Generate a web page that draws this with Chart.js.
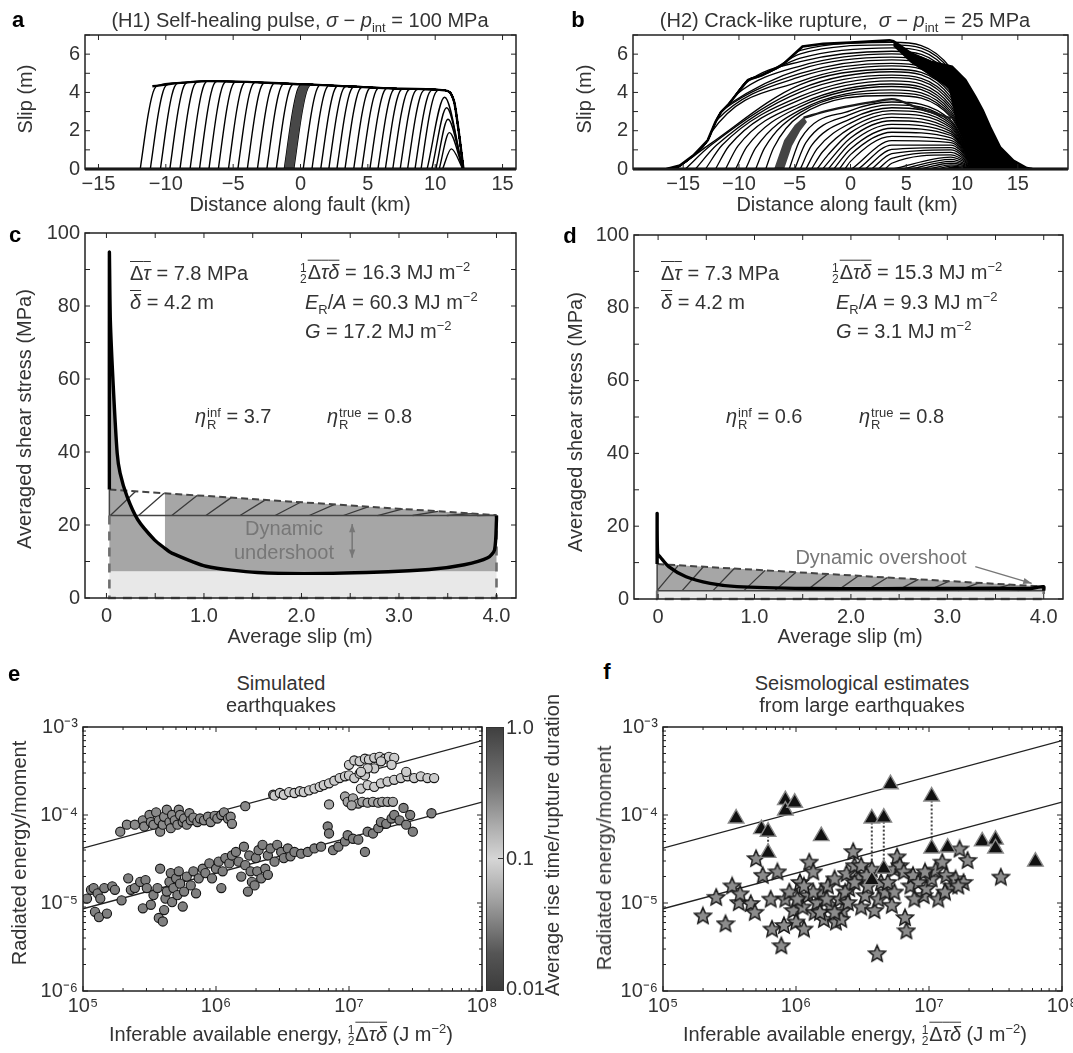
<!DOCTYPE html>
<html>
<head>
<meta charset="utf-8">
<script src="https://cdn.jsdelivr.net/npm/chart.js@4.4.1/dist/chart.umd.min.js"></script>
<style>
  body { margin: 0; background: #fff; }
  #fig { position: relative; width: 1073px; height: 1053px; overflow: hidden;
         font-family: 'Liberation Sans', Arial, Helvetica, sans-serif; color: #333; }
  canvas { position: absolute; }
  .t { position: absolute; white-space: nowrap; font-size: 20px; line-height: 1; }
  .c { transform: translate(-50%, -50%); }
  .lv { transform: translate(0, -50%); }
  .rot { transform: translate(-50%, -50%) rotate(-90deg); }
  .gray { color: #777; }
  .letter { position: absolute; font-weight: bold; font-size: 22px; color: #000; transform: translate(-50%, -50%); }
  .ov { text-decoration: overline; text-decoration-thickness: 1.4px; }
  .fr { display: inline-block; vertical-align: -0.3em; font-size: 12px; line-height: 11px; text-align: center; margin-right: 1px; }
  .fr span { display: block; }
  .ss { display: inline-block; vertical-align: -0.45em; font-size: 13px; line-height: 12px; margin-left: 1px; }
  .ss span { display: block; }
  sup, sub { font-size: 13px; line-height: 0; }
  #cbar { position: absolute; left: 486px; top: 727px; width: 16px; height: 262px; border: 1px solid #333;
          background: linear-gradient(to bottom, #404040 0%, #767676 22%, #b5b5b5 40%, #d6d6d6 50%, #a0a0a0 66%, #555 86%, #3c3c3c 100%); }
  .cbtick { position: absolute; width: 5px; height: 1px; background: #333; }
</style>
</head>
<body>
<div id="fig">
  <canvas id="chartA"></canvas>
  <canvas id="chartB"></canvas>
  <canvas id="chartC"></canvas>
  <canvas id="chartD"></canvas>
  <canvas id="chartE"></canvas>
  <canvas id="chartF"></canvas>

  <!-- panel a -->
  <div class="letter" style="left:18px;top:20px">a</div>
  <div class="t c" style="left:300px;top:20px">(H1) Self-healing pulse, <i>σ</i> − <i>p</i><sub>int</sub> = 100 MPa</div>
  <div class="t rot" style="left:25px;top:99px">Slip (m)</div>
  <div class="t c" style="left:300px;top:204px">Distance along fault (km)</div>

  <!-- panel b -->
  <div class="letter" style="left:578px;top:20px">b</div>
  <div class="t c" style="left:845px;top:20px">(H2) Crack-like rupture,&nbsp; <i>σ</i> − <i>p</i><sub>int</sub> = 25 MPa</div>
  <div class="t rot" style="left:584px;top:99px">Slip (m)</div>
  <div class="t c" style="left:847px;top:204px">Distance along fault (km)</div>

  <!-- panel c -->
  <div class="letter" style="left:15px;top:235px">c</div>
  <div class="t rot" style="left:24px;top:419px">Averaged shear stress (MPa)</div>
  <div class="t c" style="left:300px;top:636px">Average slip (m)</div>
  <div class="t lv" style="left:130px;top:273px"><span class="ov">Δ<i>τ</i></span> = 7.8 MPa</div>
  <div class="t lv" style="left:130px;top:302px"><span class="ov"><i>δ</i></span> = 4.2 m</div>
  <div class="t lv" style="left:300px;top:273px"><span class="fr"><span>1</span><span>2</span></span><span class="ov">Δ<i>τ</i></span><span class="ov"><i>δ</i></span> = 16.3 MJ m<sup>−2</sup></div>
  <div class="t lv" style="left:305px;top:302px"><i>E</i><sub>R</sub>/<i>A</i> = 60.3 MJ m<sup>−2</sup></div>
  <div class="t lv" style="left:305px;top:331px"><i>G</i> = 17.2 MJ m<sup>−2</sup></div>
  <div class="t lv" style="left:195px;top:418px"><i>η</i><span class="ss"><span>inf</span><span>R</span></span> = 3.7</div>
  <div class="t lv" style="left:327px;top:418px"><i>η</i><span class="ss"><span>true</span><span>R</span></span> = 0.8</div>
  <div class="t c gray" style="left:284px;top:528px">Dynamic</div>
  <div class="t c gray" style="left:284px;top:552px">undershoot</div>

  <!-- panel d -->
  <div class="letter" style="left:570px;top:236px">d</div>
  <div class="t rot" style="left:575px;top:422px">Averaged shear stress (MPa)</div>
  <div class="t c" style="left:850px;top:636px">Average slip (m)</div>
  <div class="t lv" style="left:661px;top:273px"><span class="ov">Δ<i>τ</i></span> = 7.3 MPa</div>
  <div class="t lv" style="left:661px;top:302px"><span class="ov"><i>δ</i></span> = 4.2 m</div>
  <div class="t lv" style="left:832px;top:273px"><span class="fr"><span>1</span><span>2</span></span><span class="ov">Δ<i>τ</i></span><span class="ov"><i>δ</i></span> = 15.3 MJ m<sup>−2</sup></div>
  <div class="t lv" style="left:836px;top:302px"><i>E</i><sub>R</sub>/<i>A</i> = 9.3 MJ m<sup>−2</sup></div>
  <div class="t lv" style="left:836px;top:331px"><i>G</i> = 3.1 MJ m<sup>−2</sup></div>
  <div class="t lv" style="left:726px;top:418px"><i>η</i><span class="ss"><span>inf</span><span>R</span></span> = 0.6</div>
  <div class="t lv" style="left:859px;top:418px"><i>η</i><span class="ss"><span>true</span><span>R</span></span> = 0.8</div>
  <div class="t c gray" style="left:881px;top:557px">Dynamic overshoot</div>

  <!-- panel e -->
  <div class="letter" style="left:14px;top:674px">e</div>
  <div class="t c" style="left:281px;top:683px">Simulated</div>
  <div class="t c" style="left:281px;top:705px">earthquakes</div>
  <div class="t rot" style="left:19px;top:853px">Radiated energy/moment</div>
  <div class="t c" style="left:281px;top:1035px">Inferable available energy, <span class="fr"><span>1</span><span>2</span></span><span class="ov">Δ<i>τ</i></span><span class="ov"><i>δ</i></span> (J m<sup>−2</sup>)</div>
  <div id="cbar"></div>
  <div class="cbtick" style="left:498px;top:858px"></div>
  <div class="t lv" style="left:506px;top:727px">1.0</div>
  <div class="t lv" style="left:506px;top:858px">0.1</div>
  <div class="t lv" style="left:506px;top:988px">0.01</div>
  <div class="t rot" style="left:552px;top:845px">Average rise time/rupture duration</div>

  <!-- panel f -->
  <div class="letter" style="left:607px;top:672px">f</div>
  <div class="t c" style="left:862px;top:683px">Seismological estimates</div>
  <div class="t c" style="left:862px;top:705px">from large earthquakes</div>
  <div class="t rot" style="left:604px;top:858px">Radiated energy/moment</div>
  <div class="t c" style="left:855px;top:1035px">Inferable available energy, <span class="fr"><span>1</span><span>2</span></span><span class="ov">Δ<i>τ</i></span><span class="ov"><i>δ</i></span> (J m<sup>−2</sup>)</div>
</div>

<script>
// ---------------- Data ----------------

// (a) self-healing pulse: final slip (top envelope, incl. right flank), km / m
const aEnvX = [-11.0, -8.9, -6.9, -3.95, -0.5, 1.0, 3.5, 7.2, 10.7, 11.4, 11.7, 12.1];
const aEnvY = [4.32, 4.5, 4.59, 4.55, 4.44, 4.41, 4.32, 4.2, 4.11, 3.53, 2.2, 0];
// position where each slip snapshot leaves zero (rupture front), km
const aFronts = [-11.9, -11.15, -10.4, -9.7, -8.95, -8.2, -7.5, -6.8, -6.1, -5.35, -4.65, -3.95,
                 -3.2, -2.5, -1.8, -1.2, -0.5, 0.2, 0.85, 1.5, 2.1, 2.7, 3.3, 3.95, 4.55, 5.15,
                 5.75, 6.3, 6.85, 7.4, 7.95, 8.5, 8.95];
// shape of the slip rise behind the front (offset km, fraction of final slip)
const aRiseDx = [0, 0.15, 0.35, 0.6, 0.85, 1.05, 1.3];
const aRiseFrac = [0, 0.17, 0.4, 0.66, 0.86, 0.96, 1.0];
// early snapshots near the nucleation zone
const aArcFoot = [9.4, 9.75, 10.05, 10.3, 10.55];
const aArcPeakX = [10.7, 10.85, 10.95, 11.05, 11.2];
const aArcPeakY = [3.75, 3.2, 2.6, 1.9, 1.05];
const aArcEnd = 12.05;
const aBandFronts = [-1.2, -0.5];   // highlighted snapshot interval

// (b) crack-like rupture: final slip envelope
const bEnvX = [-16.5, -15.3, -14.1, -12.8, -12.1, -11.6, -11.0, -9.2, -7.95, -6.1, -4.3, -2.45, 0,
               3.5, 3.85, 5.4, 7.2, 9.1, 10.3, 11.2, 11.85, 12.5, 13.4, 14.6, 15.8, 16.3];
const bEnvY = [0, 0.18, 0.7, 1.5, 2.46, 2.98, 3.33, 4.65, 4.9, 5.44, 6.4, 6.54, 6.6,
               6.72, 6.67, 6.05, 5.6, 5.35, 4.65, 3.77, 3.07, 2.2, 1.14, 0.44, 0.05, 0];
const bKnotX = [-4.5, 3.7, 9.0];    // kinks shared by the snapshots
const bTailX = 11.3;
// late snapshots (above the highlighted one): foot on baseline (null = leaves the flank)
const bLateFoot = [null, null, null, null, null, null, null, null, null,
                   -15.6, -14.8, -13.9, -13.0, -12.1, -11.2, -10.3, -9.4, -8.5, -7.6];
const bLateKneeX = [-6.4, -7.3, -8.3, -9.4, -10.2, -10.9, -11.4, -12.0, -12.5,
                    -12.6, -12.5, -12.0, -11.5, -10.9, -10.1, -9.3, -8.5, -7.7, -6.9];
const bLateKneeY = [5.32, 5.06, 4.8, 4.48, 3.9, 3.38, 3.1, 2.55, 1.9,
                    1.3, 1.25, 1.25, 1.25, 1.2, 1.2, 1.15, 1.1, 1.1, 1.1];
const bLateYa = [6.2, 6.02, 5.79, 5.61, 5.38, 5.21, 4.99, 4.82, 4.58, 4.41, 4.19, 4.02, 3.79, 3.62, 3.41, 3.26, 3.09, 2.96, 2.8];
const bLateYb = [6.62, 6.48, 6.33, 6.15, 6.01, 5.84, 5.7, 5.52, 5.39, 5.21, 5.08, 4.9, 4.77, 4.6, 4.44, 4.31, 4.13, 3.98, 3.84];
const bLateYc = [5.26, 5.12, 4.95, 4.81, 4.64, 4.52, 4.35, 4.22, 4.04, 3.92, 3.75, 3.61, 3.46, 3.3, 3.17, 3.02, 2.91, 2.8, 2.71];
// early snapshots (below the highlighted one)
const bEarlyFoot = [-5.5, -5.0, -4.5, -4.0, -3.5, -3.0, -2.5, -2.0, -1.5, -1.0, -0.5, 0.1,
                    0.7, 1.3, 1.9, 2.5, 3.1, 3.8, 4.6, 5.4, 6.2, 7.0, 7.8, 8.5];
const bEarlyKneeY = [1.55, 1.38, 1.22, 1.05, 0.9, 0.75, null, null, null, null, null, null,
                     null, null, null, null, null, null, null, null, null, null, null, null];
const bEarlyY0 = [3.05, 2.85, 2.62, 2.4, 2.15, 1.9, 1.62, 1.35, 1.05, 0.75, 0.4, null,
                  null, null, null, null, null, null, null, null, null, null, null, null];
const bEarlyYb = [3.5, 3.35, 3.2, 3.05, 2.88, 2.7, 2.52, 2.33, 2.13, 1.92, 1.7, 1.48,
                  1.25, 1.02, 0.8, 0.55, 0.3, null, null, null, null, null, null, null];
const bEarlyYc = [2.55, 2.45, 2.35, 2.25, 2.15, 2.05, 1.95, 1.85, 1.75, 1.62, 1.5, 1.38,
                  1.25, 1.12, 1.0, 0.87, 0.74, 0.62, 0.5, 0.4, 0.3, 0.22, 0.15, 0.08];
// highlighted snapshot band and its continuation
const bBandX = [-6.85, -5.95, -5.0, -4.2, -3.9, -4.5, -5.25, -5.95];
const bBandY = [0, 1.5, 2.3, 2.72, 2.45, 2.0, 1.2, 0];
const bTrailX = [-4.2, -2.0, 0, 2.0, 3.7, 6.0, 9.0];
const bTrailY = [2.68, 3.05, 3.3, 3.5, 3.65, 3.2, 2.65];
// inner edge of the saturated (black) zone near the right end
const bBlackInnerX = [11.3, 10.9, 10.3, 9.5, 9.2, 8.8, 7.2, 5.4, 3.85];
const bBlackInnerY = [0, 0.5, 1.3, 2.3, 3.2, 4.2, 4.85, 5.55, 6.4];

// (c) H1 averaged shear stress vs average slip
const cSlip = [0.03, 0.03, 0.04, 0.07, 0.11, 0.14, 0.21, 0.32, 0.49, 0.6, 0.67, 1.02, 1.55, 2.43, 3.31, 3.67, 3.91, 3.98, 4.0, 4.0];
const cTau  = [29.7, 94.5, 76, 58, 39.7, 34.2, 27.9, 21.5, 16, 13.6, 12.3, 8.7, 7.0, 6.85, 7.8, 9.1, 11, 13.2, 21.5, 22.6];
const cSlipEnds = [0.03, 4.0];
const cFinal = 7.3;          // top of light-grey block
const cLevel = 22.6;         // lower edge of hatched band
const cTop = [29.7, 22.7];   // hatched band upper edge at the two ends
const cCut = 0.6;            // left limit of the grey block
const cHatchX = [0.04, 0.33, 0.67, 1.02, 1.37, 1.73, 2.08, 2.43, 2.78, 3.14, 3.49, 3.8];
const cArrow = [2.52, 20.3, 2.52, 11.0];

// (d) H2 averaged shear stress vs average slip
const dSlip = [-0.01, -0.01, -0.005, 0.02, 0.11, 0.29, 0.54, 0.82, 1.54, 2.3, 2.96, 3.5, 3.86, 4.0, 4.0];
const dTau  = [9.6, 23.5, 12.5, 11.6, 8.9, 6.1, 4.3, 3.4, 2.9, 2.85, 2.9, 2.95, 2.9, 3.4, 2.3];
const dSlipEnds = [-0.01, 4.0];
const dLevel = 2.3;
const dTop = [9.6, 3.4];
const dHatchX = [-0.01, 0.25, 0.57, 0.89, 1.21, 1.54, 1.86, 2.16, 2.48, 2.8, 3.11, 3.43, 3.73];
const dArrow = [3.29, 8.9, 3.875, 4.3];

// (e, f) reference lines: radiated energy/moment vs inferable available energy
const fitE = [1e5, 1e8];
const fitHealing = [4.2e-5, 7.0e-4];
const fitCrack = [8.6e-6, 1.4e-4];

// (e) simulated earthquakes, [log10 E (J m^-2), log10 ER/M0]
const eHealA = [[5.28,-4.19],[5.33,-4.11],[5.39,-4.11],[5.45,-4.06],[5.46,-4.13],[5.50,-4.00],[5.51,-4.08],[5.53,-4.11],
  [5.55,-3.97],[5.57,-4.06],[5.58,-4.19],[5.60,-4.11],[5.61,-4.02],[5.63,-3.94],[5.65,-4.08],[5.66,-4.15],[5.67,-4.00],
  [5.69,-4.06],[5.71,-4.11],[5.72,-3.94],[5.73,-4.00],[5.75,-4.08],[5.76,-4.04],[5.78,-4.11],[5.80,-3.98],[5.81,-4.06],
  [5.83,-4.03],[5.86,-4.08],[5.88,-4.04],[5.91,-4.06],[5.94,-4.02],[5.96,-4.08],[5.99,-4.01],[6.01,-4.04],[6.04,-4.00],
  [6.06,-3.97],[6.09,-4.04],[6.11,-4.02],[6.12,-4.10],[6.22,-3.90],[6.43,-3.77]];
const eHealB = [[6.44,-3.78],[6.48,-3.75],[6.51,-3.77],[6.55,-3.74],[6.59,-3.75],[6.63,-3.73],[6.66,-3.74],[6.70,-3.72],
  [6.74,-3.70],[6.78,-3.68],[6.81,-3.66],[6.85,-3.64],[6.89,-3.61],[6.93,-3.58],[6.97,-3.56],[7.00,-3.55],[7.04,-3.58],
  [7.08,-3.53],[7.12,-3.55],[7.00,-3.43],[7.04,-3.38],[7.08,-3.39],[7.12,-3.36],[7.15,-3.37],[7.19,-3.35],[7.23,-3.34],
  [7.27,-3.36],[7.30,-3.34],[7.34,-3.35],[7.32,-3.43],[7.24,-3.39],[7.19,-3.47],[7.14,-3.47],[7.09,-3.51],[7.09,-3.70],
  [7.14,-3.66],[7.19,-3.68],[7.24,-3.64],[7.29,-3.62],[7.34,-3.60],[7.39,-3.58],[7.44,-3.56],[7.49,-3.58],[7.54,-3.56],
  [7.59,-3.58],[7.64,-3.58],[7.43,-3.51]];
const eHealC = [[6.97,-3.79],[6.99,-3.85],[7.03,-3.81],[7.07,-3.87],[7.10,-3.85],[7.14,-3.86],[7.18,-3.85],[7.22,-3.86],
  [7.25,-3.85],[7.29,-3.85],[7.33,-3.85],[7.02,-3.89],[6.85,-3.88]];
const eCrack = [[5.03,-4.95],[5.06,-4.85],[5.08,-4.83],[5.09,-5.10],[5.11,-4.89],[5.13,-4.95],[5.12,-5.16],[5.16,-4.83],
  [5.18,-5.12],[5.22,-4.81],[5.24,-4.85],[5.29,-4.97],[5.34,-4.72],[5.36,-4.85],[5.39,-4.83],[5.43,-4.76],[5.45,-5.06],
  [5.47,-4.74],[5.48,-4.83],[5.51,-5.02],[5.53,-4.91],[5.56,-4.83],[5.57,-5.17],[5.58,-4.61],[5.60,-5.21],[5.61,-5.08],
  [5.62,-4.95],[5.63,-4.87],[5.65,-4.76],[5.66,-4.66],[5.67,-4.99],[5.68,-4.83],[5.70,-4.72],[5.71,-4.91],[5.72,-4.64],
  [5.73,-4.78],[5.75,-5.04],[5.76,-4.87],[5.78,-4.70],[5.81,-4.80],[5.83,-4.64],[5.85,-4.89],[5.87,-4.72],[5.90,-4.61],
  [5.92,-4.66],[5.95,-4.55],[5.97,-4.72],[6.00,-4.61],[6.02,-4.53],[6.05,-4.64],[6.04,-4.83],[6.07,-4.49],[6.10,-4.55],
  [6.12,-4.46],[6.15,-4.42],[6.17,-4.53],[6.19,-4.70],[6.21,-4.36],[6.22,-4.57],[6.25,-4.46],[6.26,-4.64],[6.27,-4.76],
  [6.30,-4.49],[6.31,-4.64],[6.32,-4.40],[6.35,-4.34],[6.37,-4.61],[6.39,-4.46],[6.41,-4.38],[6.44,-4.53],[6.46,-4.34],
  [6.49,-4.42],[6.51,-4.49],[6.54,-4.38],[6.56,-4.47],[6.59,-4.42],[6.64,-4.44],[6.69,-4.42],[6.74,-4.38],[6.79,-4.36],
  [6.84,-4.13],[6.85,-4.21],[6.88,-4.40],[6.92,-4.36],[6.97,-4.30],[6.99,-4.23],[7.03,-4.27],[7.07,-4.28],[7.12,-4.42],
  [7.14,-4.19],[7.18,-4.21],[7.22,-4.15],[7.24,-4.08],[7.28,-4.10],[7.32,-4.04],[7.34,-4.00],[7.38,-4.06],[7.41,-3.92],
  [7.43,-4.11],[7.46,-4.00],[7.48,-4.19],[7.62,-3.98],[6.29,-4.80],[6.34,-4.72],[6.24,-4.87],[6.39,-4.68]];

// (f) seismological estimates, [log10 E, log10 ER/M0]
const fStars = [[5.30,-5.14],[5.47,-5.23],[5.40,-4.93],[5.52,-4.80],[5.57,-4.99],[5.66,-5.00],[5.69,-5.10],[5.70,-4.49],
  [5.75,-4.68],[5.81,-4.95],[5.82,-5.29],[5.86,-4.64],[5.89,-5.48],[5.92,-4.95],[5.95,-4.87],[5.98,-5.08],[6.00,-5.21],
  [6.03,-4.76],[6.05,-5.04],[6.06,-5.29],[6.09,-4.91],[6.10,-4.53],[6.13,-4.64],[6.14,-5.10],[6.16,-4.99],[6.19,-4.87],
  [6.21,-5.18],[6.24,-4.80],[6.26,-5.02],[6.29,-4.72],[6.30,-5.21],[6.33,-4.95],[6.35,-5.08],[6.38,-4.66],[6.40,-4.83],
  [6.43,-4.41],[6.44,-4.57],[6.47,-4.72],[6.49,-5.04],[6.52,-4.91],[6.54,-4.80],[6.57,-4.61],[6.59,-5.08],[6.61,-5.57],
  [6.62,-4.95],[6.64,-4.76],[6.67,-4.87],[6.72,-5.02],[6.74,-4.61],[6.76,-4.47],[6.78,-4.57],[6.81,-4.64],[6.82,-5.16],
  [6.83,-5.31],[6.86,-4.80],[6.88,-4.68],[6.92,-4.76],[6.96,-4.91],[6.98,-4.83],[7.02,-4.72],[7.05,-4.62],[7.07,-4.95],
  [7.10,-4.53],[7.13,-4.68],[7.17,-4.80],[7.20,-4.72],[7.23,-4.38],[7.26,-4.76],[7.29,-4.51],[7.54,-4.70],[5.58,-4.89],
  [5.91,-5.25],[6.37,-4.87],[6.49,-4.57],[6.13,-4.87],[6.18,-5.10],[6.23,-4.95],[6.34,-5.18],[6.39,-4.99],[6.53,-4.68],
  [6.69,-4.76],[6.74,-4.87],[6.89,-4.95],[6.97,-4.64],[7.12,-4.87],[7.22,-4.80],[6.01,-4.95],[6.06,-4.80],[6.29,-5.10],
  [6.44,-4.76]];
const fTriangles = [[5.55,-4.04],[5.74,-4.16],[5.79,-4.19],[5.79,-4.43],[5.92,-3.83],[5.92,-3.95],[5.99,-3.86],[6.19,-4.24],
  [6.57,-4.04],[6.57,-4.74],[6.66,-4.03],[6.66,-4.61],[6.71,-3.65],[7.02,-3.79],[7.02,-4.38],[7.14,-4.37],[7.40,-4.30],
  [7.50,-4.28],[7.50,-4.38],[7.80,-4.53]];
// same event, two estimates: [log10 E, upper log10, lower log10]
const fLinks = [[5.79,-4.19,-4.43],[6.57,-4.04,-4.74],[6.66,-4.03,-4.61],[7.02,-3.79,-4.38]];

// tick values
const aTicksX = [-15, -10, -5, 0, 5, 10, 15];
const slipTicksY = [0, 2, 4, 6];
const slipMinorY = [0, 1, 2, 3, 4, 5, 6, 7];
const stressTicksX = [0, 1, 2, 3, 4];
const stressMinorX = [0, 0.5, 1, 1.5, 2, 2.5, 3, 3.5, 4];
const stressTicksY = [0, 20, 40, 60, 80, 100];
const stressMinorY = [0, 10, 20, 30, 40, 50, 60, 70, 80, 90, 100];
const energyTicks = [1e5, 1e6, 1e7, 1e8];
const ratioTicks = [1e-6, 1e-5, 1e-4, 1e-3];

// ---------------- Layout ----------------
const BOX = {
  a: {l: 85, t: 35, r: 516, b: 169},
  b: {l: 633, t: 35, r: 1068, b: 169},
  c: {l: 85, t: 233, r: 516, b: 598},
  d: {l: 634, t: 235, r: 1063, b: 599},
  e: {l: 83, t: 727, r: 482, b: 991},
  f: {l: 663, t: 727, r: 1062, b: 991}
};
const PAD = {l: 75, t: 14, r: 24, b: 36};

Chart.defaults.font.family = "'Liberation Sans', Arial, Helvetica, sans-serif";
Chart.defaults.font.size = 20;
Chart.defaults.color = '#333';

// ---------------- Helpers ----------------
const xy = (xs, ys) => xs.map((x, i) => ({x, y: ys[i]}));
const logPts = pairs => pairs.map(([e, r]) => ({x: Math.pow(10, e), y: Math.pow(10, r)}));
const minus = v => String(v).replace('-', '\u2212');
const SUP = {'-': '\u207B', '0': '\u2070', '1': '\u00B9', '2': '\u00B2', '3': '\u00B3', '4': '\u2074',
             '5': '\u2075', '6': '\u2076', '7': '\u2077', '8': '\u2078', '9': '\u2079'};
const pow10Label = v => '10' + String(Math.round(Math.log10(v))).split('').map(ch => SUP[ch]).join('');
const decadeMinors = (from, to) => {
  const out = [];
  for (let d = from; d < to; d++) for (let m = 2; m <= 9; m++) out.push(m * Math.pow(10, d));
  return out;
};

function envAt(xs, ys, x) {
  if (x <= xs[0]) return ys[0];
  for (let i = 1; i < xs.length; i++) {
    if (x <= xs[i]) return ys[i - 1] + (ys[i] - ys[i - 1]) * (x - xs[i - 1]) / (xs[i] - xs[i - 1]);
  }
  return ys[ys.length - 1];
}

function axis(horiz, min, max, labels, fmt, pad, isLog) {
  return {
    type: isLog ? 'logarithmic' : 'linear',
    position: horiz ? 'bottom' : 'left',
    min, max,
    grid: {display: false, drawTicks: false},
    border: {display: false},
    ticks: {padding: pad, autoSkip: false, maxRotation: 0, minRotation: 0, color: '#333',
            font: {size: 20}, callback: fmt},
    afterBuildTicks: s => { s.ticks = labels.map(v => ({value: v})); },
    afterFit: s => {
      if (horiz) { s.height = PAD.b; s.paddingLeft = 0; s.paddingRight = 0; }
      else { s.width = PAD.l; s.paddingTop = 0; s.paddingBottom = 0; }
    }
  };
}

const line = (pts, o) => Object.assign({type: 'line', data: pts, borderColor: '#000', borderWidth: 1.2,
  pointRadius: 0, fill: false, tension: 0}, o || {});
const poly = (pts, color) => ({type: 'line', data: pts, borderWidth: 0, borderColor: 'rgba(0,0,0,0)',
  backgroundColor: color, pointRadius: 0, fill: 'shape', tension: 0});

// box with inward ticks on all four sides
const framePlugin = {
  id: 'frame',
  afterDatasetsDraw(chart, args, o) {
    const {ctx, chartArea: a} = chart;
    const sx = chart.scales.x, sy = chart.scales.y;
    ctx.save();
    ctx.strokeStyle = '#222';
    const marks = (vals, len, horiz) => (vals || []).forEach(v => {
      ctx.beginPath();
      if (horiz) {
        const p = sx.getPixelForValue(v);
        ctx.moveTo(p, a.bottom); ctx.lineTo(p, a.bottom - len);
        ctx.moveTo(p, a.top); ctx.lineTo(p, a.top + len);
      } else {
        const p = sy.getPixelForValue(v);
        ctx.moveTo(a.left, p); ctx.lineTo(a.left + len, p);
        ctx.moveTo(a.right, p); ctx.lineTo(a.right - len, p);
      }
      ctx.stroke();
    });
    ctx.lineWidth = 1;
    marks(o.xMajor, 5, true); marks(o.yMajor, 5, false);
    marks(o.xMinor, 3, true); marks(o.yMinor, 3, false);
    ctx.lineWidth = 1.5;
    ctx.strokeRect(a.left, a.top, a.right - a.left, a.bottom - a.top);
    ctx.restore();
  }
};

// arrows given in data units
const arrowPlugin = {
  id: 'arrows',
  afterDatasetsDraw(chart, args, o) {
    if (!o.items) return;
    const {ctx} = chart; const sx = chart.scales.x, sy = chart.scales.y;
    ctx.save();
    ctx.strokeStyle = '#777'; ctx.fillStyle = '#777'; ctx.lineWidth = 1.5;
    const head = (x1, y1, x2, y2) => {
      const ang = Math.atan2(y2 - y1, x2 - x1);
      ctx.beginPath();
      ctx.moveTo(x2, y2);
      ctx.lineTo(x2 - 9 * Math.cos(ang - 0.35), y2 - 9 * Math.sin(ang - 0.35));
      ctx.lineTo(x2 - 9 * Math.cos(ang + 0.35), y2 - 9 * Math.sin(ang + 0.35));
      ctx.closePath(); ctx.fill();
    };
    o.items.forEach(it => {
      const x1 = sx.getPixelForValue(it[0]), y1 = sy.getPixelForValue(it[1]);
      const x2 = sx.getPixelForValue(it[2]), y2 = sy.getPixelForValue(it[3]);
      ctx.beginPath(); ctx.moveTo(x1, y1); ctx.lineTo(x2, y2); ctx.stroke();
      head(x1, y1, x2, y2);
      if (it[4]) head(x2, y2, x1, y1);
    });
    ctx.restore();
  }
};

function makeChart(id, box, datasets, scales, frame, extra) {
  const cv = document.getElementById(id);
  cv.width = box.r - box.l + PAD.l + PAD.r;
  cv.height = box.b - box.t + PAD.t + PAD.b;
  cv.style.left = (box.l - PAD.l) + 'px';
  cv.style.top = (box.t - PAD.t) + 'px';
  // Chart.js paints the lowest "order" last: keep array order = painting order
  datasets.forEach((d, i) => { d.order = datasets.length - i; });
  return new Chart(cv, {
    type: 'scatter',
    data: {datasets},
    options: {
      responsive: false, animation: false, events: [],
      layout: {padding: {left: 0, top: PAD.t, right: PAD.r, bottom: 0}},
      scales,
      plugins: Object.assign({legend: {display: false}, tooltip: {enabled: false}, frame}, extra || {})
    },
    plugins: [framePlugin, arrowPlugin]
  });
}

// ---------------- (a) ----------------
function aRise(foot) {
  const end = foot + aRiseDx[aRiseDx.length - 1];
  const top = envAt(aEnvX, aEnvY, end);
  return aRiseDx.map((d, i) => ({x: foot + d, y: Math.min(aRiseFrac[i] * top, envAt(aEnvX, aEnvY, foot + d))}));
}
function aCurve(foot) {
  const pts = aRise(foot);
  const end = pts[pts.length - 1].x;
  aEnvX.forEach((x, i) => { if (x > end) pts.push({x, y: aEnvY[i]}); });
  return pts;
}
const aSets = [];
aFronts.forEach(f => aSets.push(line(aCurve(f), {borderWidth: 1.4, cubicInterpolationMode: 'monotone'})));
aArcFoot.forEach((f, i) => aSets.push(line([{x: f, y: 0}, {x: aArcPeakX[i], y: aArcPeakY[i]}, {x: aArcEnd, y: 0}],
  {borderWidth: 1.4, cubicInterpolationMode: 'monotone'})));
aSets.push(poly(aRise(aBandFronts[0]).concat(aRise(aBandFronts[1]).reverse()), '#484848'));
aSets.push(line(xy(aEnvX, aEnvY), {borderWidth: 2.4, cubicInterpolationMode: 'monotone'}));
aSets.push(line([{x: -16, y: 0}, {x: 16, y: 0}], {borderWidth: 3.2, clip: 4}));
makeChart('chartA', BOX.a, aSets, {
  x: axis(true, -16, 16, aTicksX, minus, 3),
  y: axis(false, 0, 7, slipTicksY, v => v, 5)
}, {xMajor: aTicksX, yMajor: slipMinorY});

// ---------------- (b) ----------------
const bSets = [];
bLateFoot.forEach((foot, k) => {
  let pts;
  if (foot === null) pts = xy(bEnvX, bEnvY).filter(p => p.x < bLateKneeX[k]);
  else pts = [{x: foot, y: 0}];
  pts.push({x: bLateKneeX[k], y: bLateKneeY[k]});
  pts.push({x: bKnotX[0], y: bLateYa[k]}, {x: bKnotX[1], y: bLateYb[k]}, {x: bKnotX[2], y: bLateYc[k]}, {x: bTailX, y: 0});
  bSets.push(line(pts, {borderWidth: 1.3, cubicInterpolationMode: 'monotone'}));
});
bEarlyFoot.forEach((foot, k) => {
  const pts = [{x: foot, y: 0}];
  if (bEarlyKneeY[k] !== null) pts.push({x: foot + 1, y: bEarlyKneeY[k]});
  if (bEarlyY0[k] !== null) pts.push({x: 0, y: bEarlyY0[k]});
  if (bEarlyYb[k] !== null) pts.push({x: bKnotX[1], y: bEarlyYb[k]});
  pts.push({x: bKnotX[2], y: bEarlyYc[k]}, {x: bTailX, y: 0});
  bSets.push(line(pts, {borderWidth: 1.3, cubicInterpolationMode: 'monotone'}));
});
bSets.push(poly(xy(bBandX, bBandY), '#444'));
bSets.push(line(xy(bTrailX, bTrailY), {borderWidth: 2.4, borderColor: '#1a1a1a', cubicInterpolationMode: 'monotone'}));
bSets.push(poly(xy(bEnvX, bEnvY).filter(p => p.x >= bBlackInnerX[bBlackInnerX.length - 1])
  .concat(xy(bBlackInnerX, bBlackInnerY)), '#000'));
bSets.push(line(xy(bEnvX, bEnvY), {borderWidth: 2.6}));
bSets.push(line([{x: -19.5, y: 0}, {x: 19.5, y: 0}], {borderWidth: 3.2, clip: 4}));
makeChart('chartB', BOX.b, bSets, {
  x: axis(true, -19.5, 19.5, aTicksX, minus, 3),
  y: axis(false, 0, 7, slipTicksY, v => v, 5)
}, {xMajor: aTicksX, yMajor: slipMinorY});

// ---------------- (c), (d) ----------------
function stressSets(slip, tau, ends, final, level, top, cut, hatchX, hatchDx) {
  const topAt = x => top[0] + (top[1] - top[0]) * (x - ends[0]) / (ends[1] - ends[0]);
  const sets = [];
  const base = final > 0 ? final : level;
  sets.push(poly([{x: ends[0], y: 0}, {x: ends[0], y: base}, {x: ends[1], y: base}, {x: ends[1], y: 0}], '#e8e8e8'));
  const grey = [{x: ends[0], y: base}];
  if (cut !== null) {
    xy(slip, tau).filter(p => p.x <= cut).forEach(p => grey.push(p));
    grey.push({x: cut, y: topAt(cut)});
  } else grey.push({x: ends[0], y: top[0]});
  grey.push({x: ends[1], y: top[1]}, {x: ends[1], y: base});
  sets.push(poly(grey, '#a6a6a6'));
  const hatch = [];
  hatchX.forEach(x => {
    const x2 = Math.min(x + hatchDx, ends[1]);
    hatch.push({x, y: level}, {x: x2, y: topAt(x2)}, {x: x2, y: null});
  });
  sets.push(line(hatch, {borderWidth: 1.3, borderColor: '#3a3a3a'}));
  sets.push(line([{x: ends[0], y: top[0]}, {x: ends[0], y: level}, {x: ends[1], y: level}], {borderWidth: 1.5, borderColor: '#444'}));
  sets.push(line([{x: ends[0], y: top[0]}, {x: ends[1], y: top[1]}], {borderWidth: 2, borderColor: '#444', borderDash: [7, 4]}));
  sets.push(line([{x: ends[0], y: level}, {x: ends[0], y: 0}, {x: ends[1], y: 0}, {x: ends[1], y: top[1]}],
    {borderWidth: 2.6, borderColor: '#6e6e6e', borderDash: [9, 7], clip: 6}));
  sets.push(line(xy(slip, tau), {borderWidth: 3.4, tension: 0.25, clip: 6}));
  return sets;
}
const stressFmt = v => (v === 0 ? '0' : v.toFixed(1));
makeChart('chartC', BOX.c, stressSets(cSlip, cTau, cSlipEnds, cFinal, cLevel, cTop, cCut, cHatchX, 0.26), {
  x: axis(true, -0.22, 4.2, stressTicksX, stressFmt, 6),
  y: axis(false, 0, 100, stressTicksY, v => v, 5)
}, {xMajor: stressMinorX, yMajor: stressMinorY}, {arrows: {items: [cArrow.concat([true])]}});

makeChart('chartD', BOX.d, stressSets(dSlip, dTau, dSlipEnds, 0, dLevel, dTop, null, dHatchX, 0.22), {
  x: axis(true, -0.25, 4.2, stressTicksX, stressFmt, 6),
  y: axis(false, 0, 100, stressTicksY, v => v, 5)
}, {xMajor: stressMinorX, yMajor: stressMinorY}, {arrows: {items: [dArrow.concat([false])]}});

// ---------------- (e) ----------------
const fitSets = () => [
  line(xy(fitE, fitHealing), {borderWidth: 1.3, borderColor: '#222'}),
  line(xy(fitE, fitCrack), {borderWidth: 1.3, borderColor: '#222'})
];
const dots = (pairs, color) => ({type: 'scatter', data: logPts(pairs), pointRadius: 4.6, pointBackgroundColor: color,
  pointBorderColor: '#151515', pointBorderWidth: 1.1});
const logScales = () => ({
  x: axis(true, 1e5, 1e8, energyTicks, pow10Label, 3, true),
  y: axis(false, 1e-6, 1e-3, ratioTicks, pow10Label, 5, true)
});
const logFrame = {xMajor: energyTicks, yMajor: ratioTicks, xMinor: decadeMinors(5, 8), yMinor: decadeMinors(-6, -3)};
makeChart('chartE', BOX.e, fitSets().concat([
  dots(eCrack, '#808080'), dots(eHealA, '#8a8a8a'), dots(eHealC, '#a6a6a6'), dots(eHealB, '#cbcbcb')
]), logScales(), logFrame);

// ---------------- (f) ----------------
function starImage(size) {
  const c = document.createElement('canvas');
  c.width = c.height = size;
  const g = c.getContext('2d');
  const cx = size / 2, cy = size / 2 + 0.9, R = size / 2 - 1.3, r = R * 0.46;
  g.beginPath();
  for (let i = 0; i < 10; i++) {
    const ang = -Math.PI / 2 + i * Math.PI / 5, rr = i % 2 ? r : R;
    g.lineTo(cx + rr * Math.cos(ang), cy + rr * Math.sin(ang));
  }
  g.closePath();
  g.fillStyle = '#8c8c8c'; g.fill();
  g.lineWidth = 1.5; g.strokeStyle = '#1a1a1a'; g.stroke();
  return c;
}
const fSets = fLinks.map(([e, hi, lo]) => line([{x: Math.pow(10, e), y: Math.pow(10, hi)}, {x: Math.pow(10, e), y: Math.pow(10, lo)}],
  {borderWidth: 2, borderColor: '#444', borderDash: [2, 2]}));
makeChart('chartF', BOX.f, fSets.concat(fitSets(), [
  {type: 'scatter', data: logPts(fStars), pointStyle: starImage(20), pointRadius: 9},
  {type: 'scatter', data: logPts(fTriangles), pointStyle: 'triangle', pointRadius: 9,
   pointBackgroundColor: '#111', pointBorderColor: '#8a8a8a', pointBorderWidth: 1.4}
]), logScales(), logFrame);
</script>
</body>
</html>
